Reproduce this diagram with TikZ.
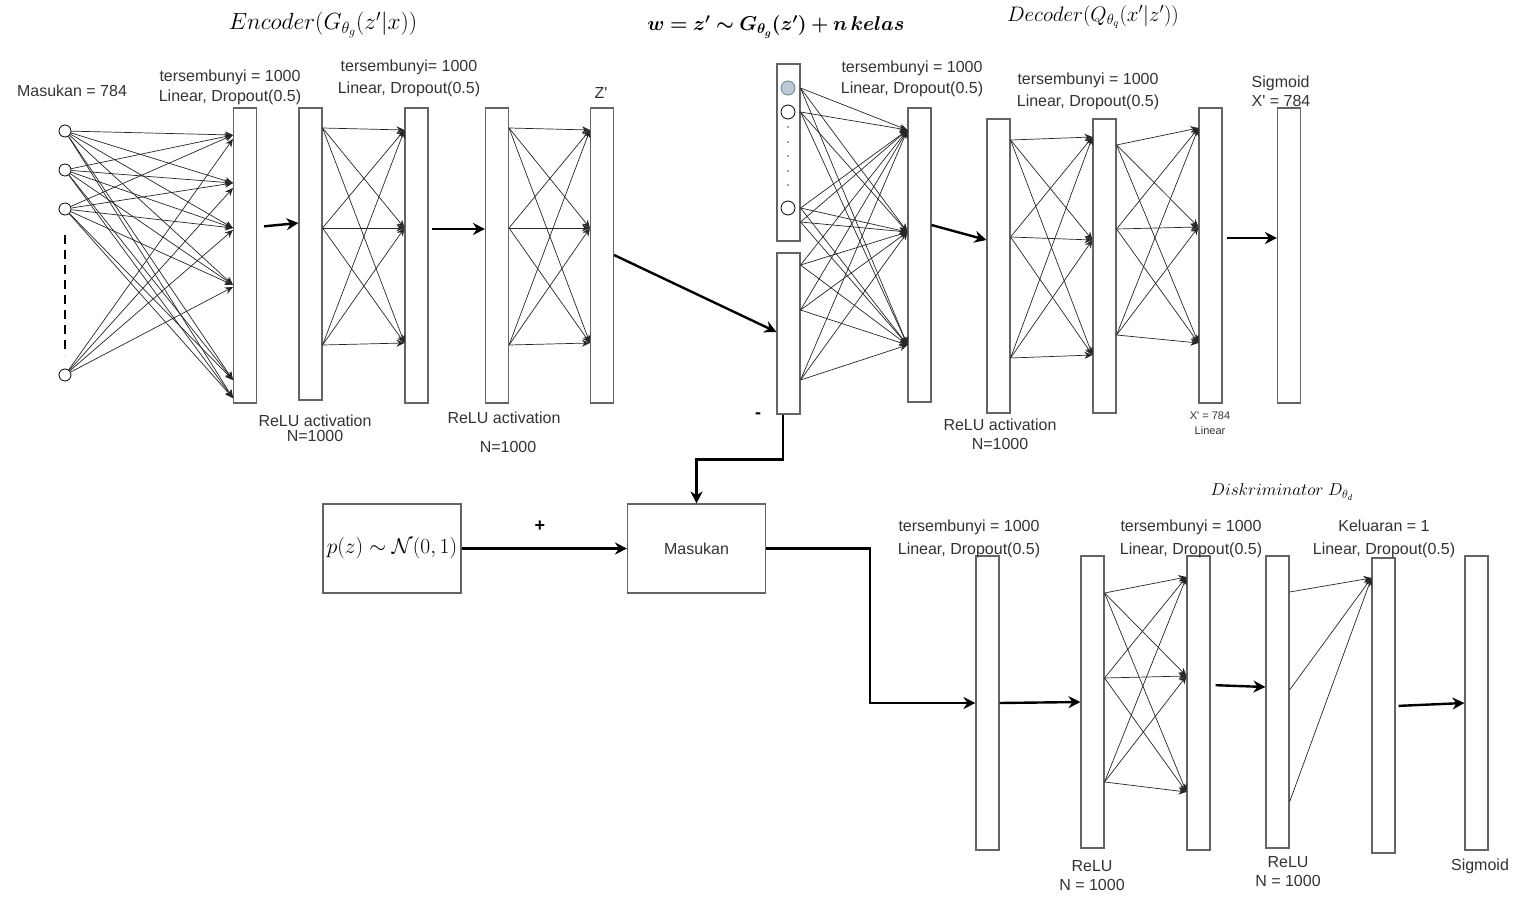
\RequirePackage{fix-cm}
\documentclass[tikz,border=0pt]{standalone}
\usepackage[no-math]{fontspec}
\setmainfont{Liberation Sans}[Ligatures=TeXOff]
\usepackage{bm}
\usepackage{tikz}
\usetikzlibrary{arrows.meta,positioning,calc}
\definecolor{bargray}{RGB}{100,100,100}
\definecolor{txtgray}{RGB}{51,51,51}
\definecolor{onehot}{RGB}{188,202,214}
\definecolor{onehotline}{RGB}{105,125,145}
\tikzstyle{layer}=[draw=bargray,fill=white,line width=1.1pt,minimum width=23pt,minimum height=295pt,inner sep=0pt]
\tikzstyle{boxed}=[draw=bargray,fill=white,line width=1.1pt,minimum width=138pt,minimum height=89pt,inner sep=0pt]
\tikzstyle{unit}=[draw=black,fill=white,circle,minimum size=12pt,inner sep=0pt,line width=0.8pt]
\tikzstyle{link}=[draw=black!85,line width=0.7pt,-{Stealth[length=8pt,width=7pt]}]
\tikzstyle{bigarrow}=[line width=2.4pt,-{Stealth[length=12pt,width=12pt]}]
\tikzstyle{lbl}=[text=txtgray,font=\fontsize{16}{20}\selectfont,align=center,inner sep=0pt]

\begin{document}
\begin{tikzpicture}[x=1pt,y=-1pt]
\useasboundingbox (0,0) rectangle (1513,899);
% titles
\node (tenc) at (323,25) {\fontsize{23.4}{26}\selectfont $Encoder(G_{\theta_g}(z'|x))$};
\node (tw) at (776,27) {\fontsize{20}{24}\selectfont $\bm{w = z' \sim G_{\theta_g}(z') + n\,kelas}$};
\node (tdec) at (1093,17) {\fontsize{21}{24}\selectfont $Decoder(Q_{\theta_q}(x'|z'))$};
\node (tdis) at (1282,492) {\fontsize{17.2}{20}\selectfont $Diskriminator\ D_{\theta_d}$};

% encoder
\node[unit] (i1) at (65,131) {};
\node[unit] (i2) at (65,170) {};
\node[unit] (i3) at (65,209) {};
\node[unit] (i4) at (65,375) {};
\draw[line width=2.2pt,dash pattern=on 9pt off 6pt] ([yshift=-26pt]i3.center) -- ([yshift=20pt]i4.center);
\node[layer] (e1) at (245,255.5) {};
\node[layer,minimum height=292pt] (e2) at (310.5,254) {};
\node[layer] (e3) at (416.5,255.5) {};
\node[layer] (e4) at (497,255.5) {};
\node[layer] (e5) at (602,255.5) {};
\node[lbl] (lin) at (72,91) {Masukan = 784};
\node[lbl] (le1) at (230,87) {tersembunyi = 1000\\Linear, Dropout(0.5)};
\node[lbl,font=\fontsize{16}{22}\selectfont] (le3) at (409,78) {tersembunyi= 1000\\Linear, Dropout(0.5)};
\node[lbl] (lz) at (601,93) {Z'};
\node[lbl,font=\fontsize{16}{15}\selectfont] (le2) at (315,428) {ReLU activation\\N=1000};
\node[lbl,font=\fontsize{16}{29}\selectfont] (le4) at (504,432.5) {ReLU activation\\\hspace*{8pt}N=1000};
\foreach \i in {1,2,3}{
  \foreach \t in {135,183,228,285,380,398}{\draw[link] (i\i) -- (e1.west |- 0,\t);}}
\foreach \t in {139,188,230,287}{\draw[link] (i4) -- (e1.west |- 0,\t);}
\foreach \s in {128,228,345}{
  \foreach \t in {130,228,343}{
    \draw[link] (e2.east |- 0,\s) -- (e3.west |- 0,\t);
    \draw[link] (e4.east |- 0,\s) -- (e5.west |- 0,\t);}}
\draw[bigarrow,shorten <=7pt] (e1.east |- 0,227) -- (e2.west |- 0,223);
\draw[bigarrow,shorten <=3pt] (e3.east |- 0,229) -- (e4.west |- 0,229);

% sample w
\node[layer,minimum height=177pt] (w1) at (788.5,152.5) {};
\node[layer,minimum height=161pt] (w2) at (788.5,333.5) {};
\node[unit,fill=onehot,draw=onehotline,minimum width=12pt,minimum height=14pt] (wa) at (788,88) {};
\node[unit,minimum width=12pt,minimum height=14pt] (wb) at (788,112) {};
\node[unit,minimum width=12pt,minimum height=14pt] (wc) at (788,208) {};
\foreach \y in {127,142,156,171,185}{\fill[black!70] (788,\y) circle (0.9pt);}
\draw[bigarrow] (e5.east |- 0,255) -- (w2.west |- 0,332);
\node[font=\bfseries\fontsize{18}{20}\selectfont] (minus) at (758,416) {-};

% decoder
\node[layer,minimum height=294pt] (d1) at (919.5,255) {};
\node[layer,minimum height=294pt] (d2) at (998.5,266) {};
\node[layer,minimum height=294pt] (d3) at (1104.5,266) {};
\node[layer] (d4) at (1210.5,255.5) {};
\node[layer] (d5) at (1289,255.5) {};
\node[lbl,font=\fontsize{16}{21}\selectfont] (ld1) at (912,78.5) {tersembunyi = 1000\\Linear, Dropout(0.5)};
\node[lbl,font=\fontsize{16}{22}\selectfont] (ld3) at (1088,91) {tersembunyi = 1000\\Linear, Dropout(0.5)};
\node[lbl,font=\fontsize{16}{19}\selectfont] (ld2) at (1000,434.5) {ReLU activation\\N=1000};
\node[lbl,font=\fontsize{11}{15}\selectfont] (ld4) at (1210,423) {X' = 784\\Linear};
\node[lbl,font=\fontsize{16}{19}\selectfont,align=left] (ld5) at (1281,91.5) {Sigmoid\\X' = 784};
\foreach \s in {88,112,208,222}{
  \foreach \t in {130,232,345}{\draw[link] (w1.east |- 0,\s) -- (d1.west |- 0,\t);}}
\foreach \s in {265,310,380}{
  \foreach \t in {130,232,345}{\draw[link] (w2.east |- 0,\s) -- (d1.west |- 0,\t);}}
\foreach \s in {140,237,358}{
  \foreach \t in {137,240,355}{\draw[link] (d2.east |- 0,\s) -- (d3.west |- 0,\t);}}
\foreach \s in {145,229,335}{
  \foreach \t in {128,227,343}{\draw[link] (d3.east |- 0,\s) -- (d4.west |- 0,\t);}}
\draw[bigarrow] (d1.east |- 0,225) -- (d2.west |- 0,240);
\draw[bigarrow,shorten <=4pt] (d4.east |- 0,238) -- (d5.west |- 0,238);

% prior and merge
\node[boxed] (p) at (392,548.5) {\fontsize{21.5}{24}\selectfont $p(z)\sim\mathcal{N}(0,1)$};
\node[boxed,text=txtgray,font=\fontsize{16}{20}\selectfont] (m) at (696.5,548.5) {Masukan};
\node[font=\bfseries\fontsize{18}{20}\selectfont] (plus) at (540,526) {+};
\coordinate (bend) at (870,703);
\draw[bigarrow] ([xshift=-5.5pt]w2.south) -- ++(0,45) -| (m.north);
\draw[bigarrow] (p) -- (m);

% discriminator
\node[layer,minimum height=294pt] (k1) at (987.5,703) {};
\node[layer,minimum height=292pt] (k2) at (1092.5,702) {};
\node[layer,minimum height=294pt] (k3) at (1198.5,703) {};
\node[layer,minimum height=292pt] (k4) at (1277.5,702) {};
\node[layer] (k5) at (1383.5,705.5) {};
\node[layer,minimum height=294pt] (k6) at (1476.5,703) {};
\node[lbl,font=\fontsize{16}{23}\selectfont] (lk1) at (969,538.5) {tersembunyi = 1000\\Linear, Dropout(0.5)};
\node[lbl,font=\fontsize{16}{23}\selectfont] (lk3) at (1191,538.5) {tersembunyi = 1000\\Linear, Dropout(0.5)};
\node[lbl,font=\fontsize{16}{23}\selectfont] (lk5) at (1384,538.5) {Keluaran = 1\\Linear, Dropout(0.5)};
\node[lbl,font=\fontsize{16}{19}\selectfont] (lk2) at (1092,875.5) {ReLU\\N = 1000};
\node[lbl,font=\fontsize{16}{19}\selectfont] (lk4) at (1288,871.5) {ReLU\\N = 1000};
\node[lbl] (lk6) at (1480,866) {Sigmoid};
\foreach \s in {593,678,782}{
  \foreach \t in {577,676,792}{\draw[link] (k2.east |- 0,\s) -- (k3.west |- 0,\t);}}
\foreach \s in {592,690,802}{\draw[link] (k4.east |- 0,\s) -- (k5.west |- 0,578);}
\draw[bigarrow] (m.east) -| (bend) -- (k1.west);
\draw[bigarrow] (k1.east) -- (k2.west);
\draw[bigarrow,shorten <=5pt] (k3.east |- 0,685) -- (k4.west |- 0,687);
\draw[bigarrow,shorten <=3pt] (k5.east |- 0,706) -- (k6.west |- 0,703);
\end{tikzpicture}
\end{document}
